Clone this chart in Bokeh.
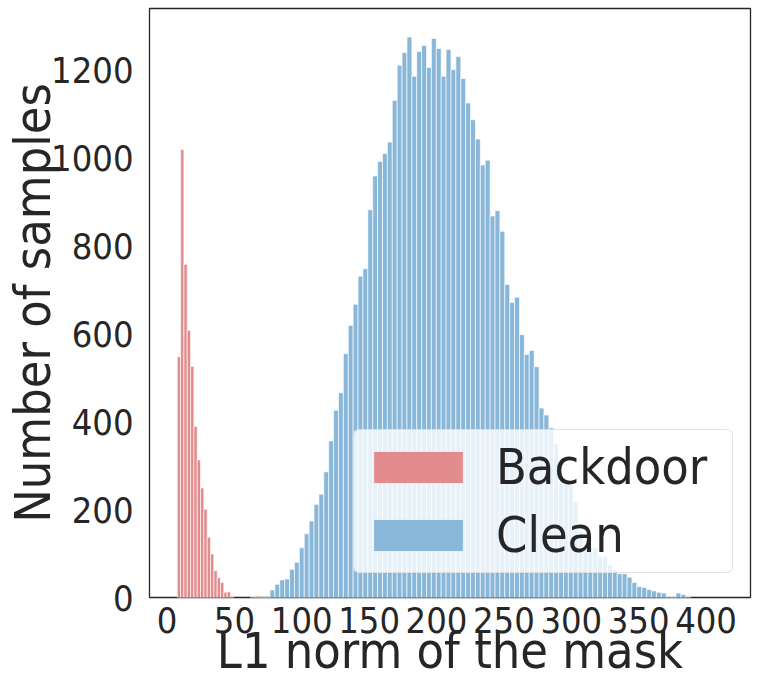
from bokeh.plotting import figure
from bokeh.models import Legend, LegendItem, FixedTicker, Range1d
from bokeh.embed import file_html
from bokeh.resources import INLINE

# ---- data (histogram counts) ----
backdoor_start = 7.6
backdoor_width = 2.47
backdoor_counts = [548, 1019, 758, 608, 526, 389, 313, 249, 201, 137, 99, 61, 45, 34, 12, 13, 3]

clean_start = 61.9
clean_width = 3.63
clean_counts = [2, 0, 1, 1, 17, 30, 40, 42, 64, 80,
                113, 145, 174, 212, 235, 286, 356, 426, 466, 555,
                619, 667, 731, 748, 882, 959, 992, 1010, 1036, 1131,
                1211, 1240, 1275, 1186, 1242, 1256, 1206, 1272, 1249, 1186,
                1247, 1201, 1231, 1181, 1125, 1087, 1043, 984, 995, 868,
                880, 833, 712, 671, 683, 598, 553, 562, 525, 431,
                415, 386, 349, 260, 258, 255, 217, 150, 114, 114,
                114, 94, 94, 75, 63, 54, 54, 46, 34, 25,
                23, 18, 15, 12, 10, 2, 1, 10, 7, 3]

series_names = ["Backdoor", "Clean"]
x_ticks = [0, 50, 100, 150, 200, 250, 300, 350, 400]
y_ticks = [0, 200, 400, 600, 800, 1000, 1200]
x_label = "L1 norm of the mask"
y_label = "Number of samples"

# ---- bin edges ----
bd_left = [backdoor_start + i * backdoor_width for i in range(len(backdoor_counts))]
bd_right = [l + backdoor_width for l in bd_left]
cl_left = [clean_start + i * clean_width for i in range(len(clean_counts))]
cl_right = [l + clean_width for l in cl_left]

TXT = "#262626"
FONT = "DejaVu Sans Condensed"

p = figure(width=754, height=692, output_backend="svg", toolbar_location=None,
           x_range=Range1d(-13, 433), y_range=Range1d(0, 1340),
           min_border_left=149, min_border_right=4, min_border_top=8, min_border_bottom=95)

r_bd = p.quad(left=bd_left, right=bd_right, top=backdoor_counts, bottom=0,
              fill_color="#e38c8e", line_color="white", line_width=0.8, line_alpha=0.8)
r_cl = p.quad(left=cl_left, right=cl_right, top=clean_counts, bottom=0,
              fill_color="#88b7d9", line_color="white", line_width=0.8, line_alpha=0.8)

p.xgrid.visible = False
p.ygrid.visible = False
p.outline_line_color = TXT
p.outline_line_width = 1.3
p.background_fill_color = "white"

for ax in (p.xaxis, p.yaxis):
    ax.axis_line_color = None
    ax.major_tick_line_color = None
    ax.minor_tick_line_color = None
    ax.major_label_text_font = FONT
    ax.major_label_text_font_size = "36px"
    ax.major_label_text_color = TXT
    ax.axis_label_text_font = FONT
    ax.axis_label_text_font_size = "50px"
    ax.axis_label_text_font_style = "normal"
    ax.axis_label_text_color = TXT

p.xaxis.ticker = FixedTicker(ticks=x_ticks)
p.yaxis.ticker = FixedTicker(ticks=y_ticks)
p.xaxis.axis_label = x_label
p.yaxis.axis_label = y_label
p.xaxis.major_label_standoff = 3
p.yaxis.major_label_standoff = 10
p.xaxis.axis_label_standoff = -14
p.yaxis.axis_label_standoff = -14

legend = Legend(items=[LegendItem(label=series_names[0], renderers=[r_bd]),
                       LegendItem(label=series_names[1], renderers=[r_cl])],
                location=(204, 24), margin=0, padding=8, spacing=10,
                glyph_width=112, glyph_height=40, label_standoff=22, label_width=228,
                label_text_font=FONT, label_text_font_size="50px", label_text_color=TXT,
                border_line_color="#cccccc", border_line_width=1,
                background_fill_color="white", background_fill_alpha=0.8)
try:
    legend.border_radius = 6
except Exception:
    pass
p.add_layout(legend)

open("out.html", "w").write(file_html(p, INLINE))
